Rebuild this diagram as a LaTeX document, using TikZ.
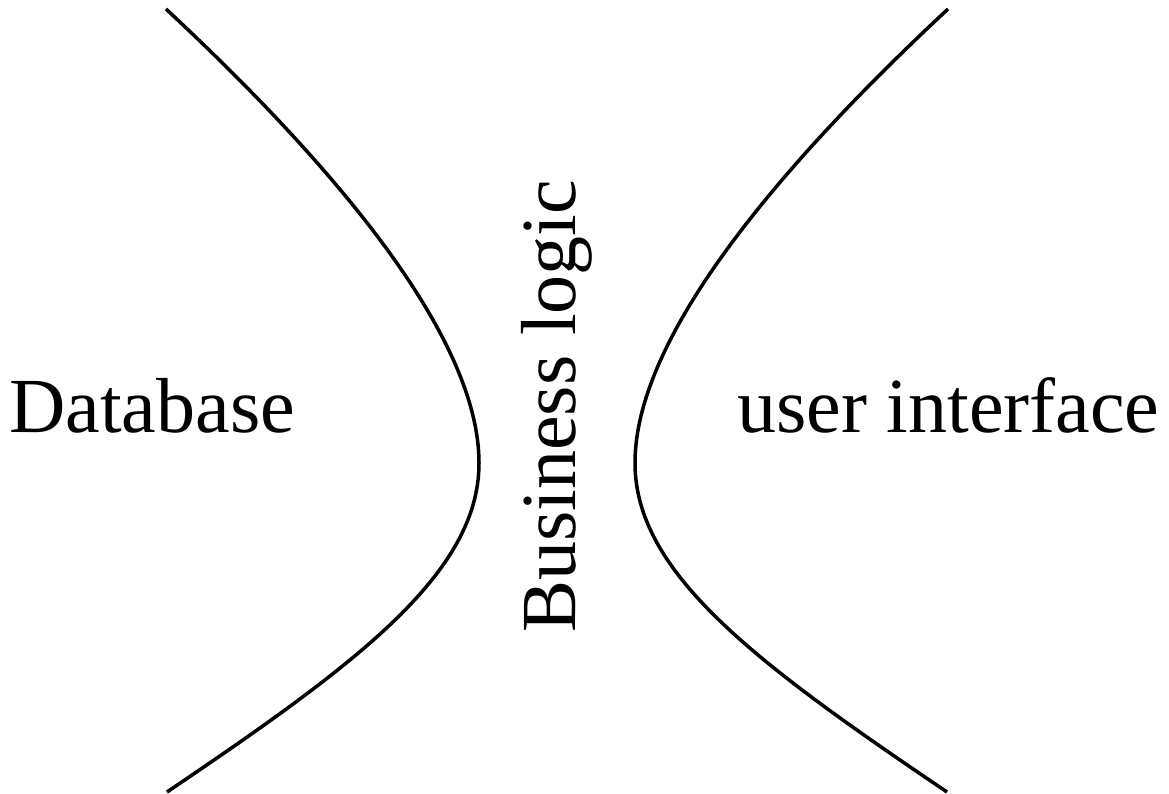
\documentclass[tikz,border=0pt]{standalone}
\usepackage{fontspec}
\setmainfont{Liberation Serif}
\tikzset{
  curve/.style={line width=3.5pt, line join=round, line cap=butt},
  label/.style={inner sep=0pt, font=\fontsize{78}{90}\selectfont},
}
\begin{document}
\begin{tikzpicture}[x=1pt,y=-1pt]
\useasboundingbox (0,0) rectangle (1169,794);
% left curve
\coordinate (lt) at (166,9);
\coordinate (lv) at (479,463);
\coordinate (lb) at (167,792);
\draw[curve] (lt) .. controls (348.5,179) and (479,343) .. (lv)
                  .. controls (479,573) and (358,663) .. (lb);
% right curve (mirror about x=557)
\coordinate (rt) at (948,9);
\coordinate (rv) at (635,463);
\coordinate (rb) at (947,792);
\draw[curve] (rt) .. controls (765.5,179) and (635,343) .. (rv)
                  .. controls (635,573) and (756,663) .. (rb);
\node[label, anchor=base west] (db) at (9,432) {Database};
\node[label, anchor=base west] (ui) at (737,432) {user interface};
\node[label, anchor=base west, rotate=90] (bl) at (575,633) {Business logic};
\end{tikzpicture}
\end{document}
